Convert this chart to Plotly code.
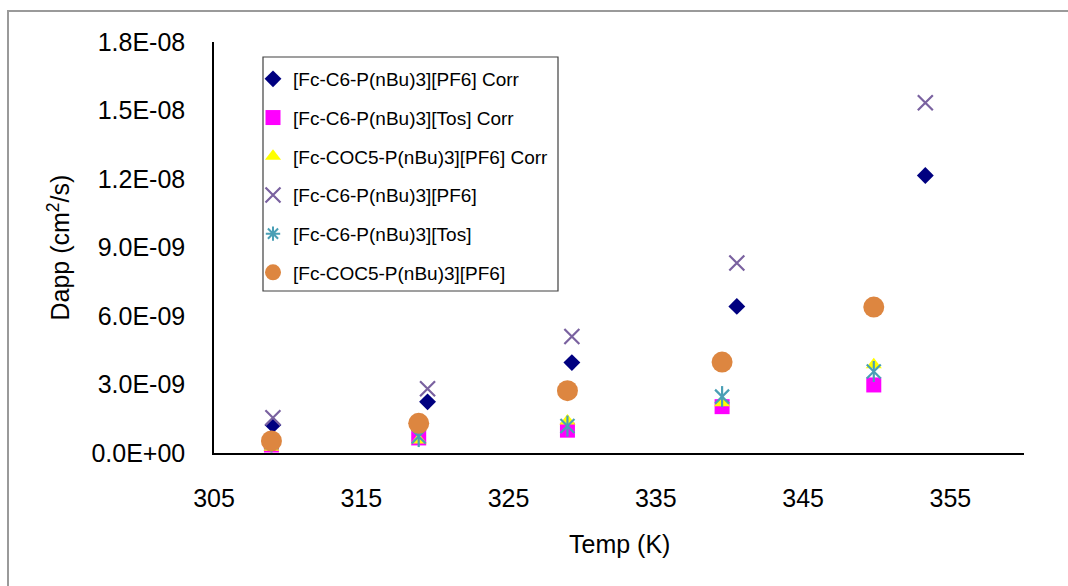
import plotly.graph_objects as go

# ---- data ----
temps_a = [309.0, 319.5, 329.3, 340.5, 353.3]   # [Fc-C6-P(nBu)3][PF6] series
temps_b = [308.9, 318.9, 329.0, 339.5, 349.8]   # other series

d_c6pf6_corr = [1.23e-9, 2.24e-9, 3.96e-9, 6.42e-9, 12.15e-9]
d_c6tos_corr = [0.35e-9, 0.66e-9, 1.00e-9, 2.03e-9, 2.98e-9]
d_coc5pf6_corr = [0.25e-9, 0.57e-9, 1.40e-9, 2.20e-9, 3.86e-9]
d_c6pf6 = [1.54e-9, 2.81e-9, 5.10e-9, 8.32e-9, 15.34e-9]
d_c6tos = [0.48e-9, 0.72e-9, 1.18e-9, 2.47e-9, 3.57e-9]
d_coc5pf6 = [0.53e-9, 1.30e-9, 2.73e-9, 3.98e-9, 6.39e-9]

names = [
    "[Fc-C6-P(nBu)3][PF6] Corr",
    "[Fc-C6-P(nBu)3][Tos] Corr",
    "[Fc-COC5-P(nBu)3][PF6] Corr",
    "[Fc-C6-P(nBu)3][PF6]",
    "[Fc-C6-P(nBu)3][Tos]",
    "[Fc-COC5-P(nBu)3][PF6]",
]

y_tickvals = [0, 3e-9, 6e-9, 9e-9, 1.2e-8, 1.5e-8, 1.8e-8]
y_ticktext = ["0.0E+00", "3.0E-09", "6.0E-09", "9.0E-09", "1.2E-08", "1.5E-08", "1.8E-08"]
x_tickvals = [305, 315, 325, 335, 345, 355]
x_ticktext = ["305", "315", "325", "335", "345", "355"]

FONT = "Liberation Sans, Arial, sans-serif"
TEAL = "#4a9fb5"

fig = go.Figure()

fig.add_trace(go.Scatter(x=temps_a, y=d_c6pf6_corr, mode="markers", name=names[0],
                         legendgroup="g1",
                         marker=dict(symbol="diamond", size=13, color="#000080")))
fig.add_trace(go.Scatter(x=temps_b, y=d_c6tos_corr, mode="markers", name=names[1],
                         legendgroup="g2",
                         marker=dict(symbol="square", size=15, color="#ff00ff")))
fig.add_trace(go.Scatter(x=temps_b, y=d_coc5pf6_corr, mode="markers", name=names[2],
                         legendgroup="g3",
                         marker=dict(symbol="triangle-up", size=14, color="#ffff00")))
fig.add_trace(go.Scatter(x=temps_a, y=d_c6pf6, mode="markers", name=names[3],
                         legendgroup="g4",
                         marker=dict(symbol="x-thin", size=15,
                                     line=dict(color="#7a62a0", width=2.2))))
# asterisk: x plus vertical line
fig.add_trace(go.Scatter(x=temps_b, y=d_c6tos, mode="markers", name=names[4],
                         legendgroup="g5", showlegend=False,
                         marker=dict(symbol="x-thin", size=14,
                                     line=dict(color=TEAL, width=2.2))))
fig.add_trace(go.Scatter(x=temps_b, y=d_c6tos, mode="markers", name=names[4],
                         legendgroup="g5", showlegend=False,
                         marker=dict(symbol="line-ns", size=15,
                                     line=dict(color=TEAL, width=2.2))))
fig.add_trace(go.Scatter(x=[None], y=[None], mode="markers", name=names[4],
                         legendgroup="g5",
                         marker=dict(symbol="asterisk", size=12,
                                     line=dict(color=TEAL, width=2))))
fig.add_trace(go.Scatter(x=temps_b, y=d_coc5pf6, mode="markers", name=names[5],
                         legendgroup="g6",
                         marker=dict(symbol="circle", size=21, color="#dd8640")))

fig.update_layout(
    width=1068, height=586,
    margin=dict(l=214, r=44, t=42, b=133),
    paper_bgcolor="white", plot_bgcolor="white",
    font=dict(family=FONT, size=25, color="black"),
    showlegend=True,
    legend=dict(
        x=(253 - 214) / 810, y=(453 - 60) / 411,
        xanchor="left", yanchor="top",
        bgcolor="rgba(0,0,0,0)", borderwidth=0,
        font=dict(family=FONT, size=19, color="black"),
        traceorder="grouped", tracegroupgap=11,
    ),
    xaxis=dict(range=[305, 360], tickvals=x_tickvals, ticktext=x_ticktext,
               showgrid=False, zeroline=False, showline=True, linecolor="black",
               linewidth=1.5, ticks="", ticklabelstandoff=22,
               tickfont=dict(family=FONT, size=25)),
    yaxis=dict(range=[0, 1.8e-8], tickvals=y_tickvals, ticktext=y_ticktext,
               showgrid=False, zeroline=False, showline=True, linecolor="black",
               linewidth=1.5, ticks="", ticklabelstandoff=22,
               tickfont=dict(family=FONT, size=25)),
    annotations=[
        dict(text="Temp (K)", xref="paper", yref="paper",
             x=0.5, y=(453 - 544) / 411, xanchor="center", yanchor="middle",
             showarrow=False, font=dict(family=FONT, size=25)),
        dict(text="Dapp (cm<sup>2</sup>/s)", xref="paper", yref="paper",
             x=(58 - 214) / 810, y=0.5, xanchor="center", yanchor="middle",
             textangle=-90, showarrow=False, font=dict(family=FONT, size=25)),
    ],
    shapes=[
        # legend box
        dict(type="rect", xref="paper", yref="paper",
             x0=(263 - 214) / 810, x1=(558 - 214) / 810,
             y0=(453 - 291) / 411, y1=(453 - 57) / 411,
             line=dict(color="#404040", width=1.2), fillcolor="rgba(0,0,0,0)"),
        # outer chart-area frame (left and top edges visible)
        dict(type="rect", xref="paper", yref="paper",
             x0=(8 - 214) / 810, x1=(1200 - 214) / 810,
             y0=(453 - 700) / 411, y1=(453 - 11) / 411,
             line=dict(color="#9a9a9a", width=2), fillcolor="rgba(0,0,0,0)",
             layer="below"),
    ],
)

fig.write_html("out.html")
